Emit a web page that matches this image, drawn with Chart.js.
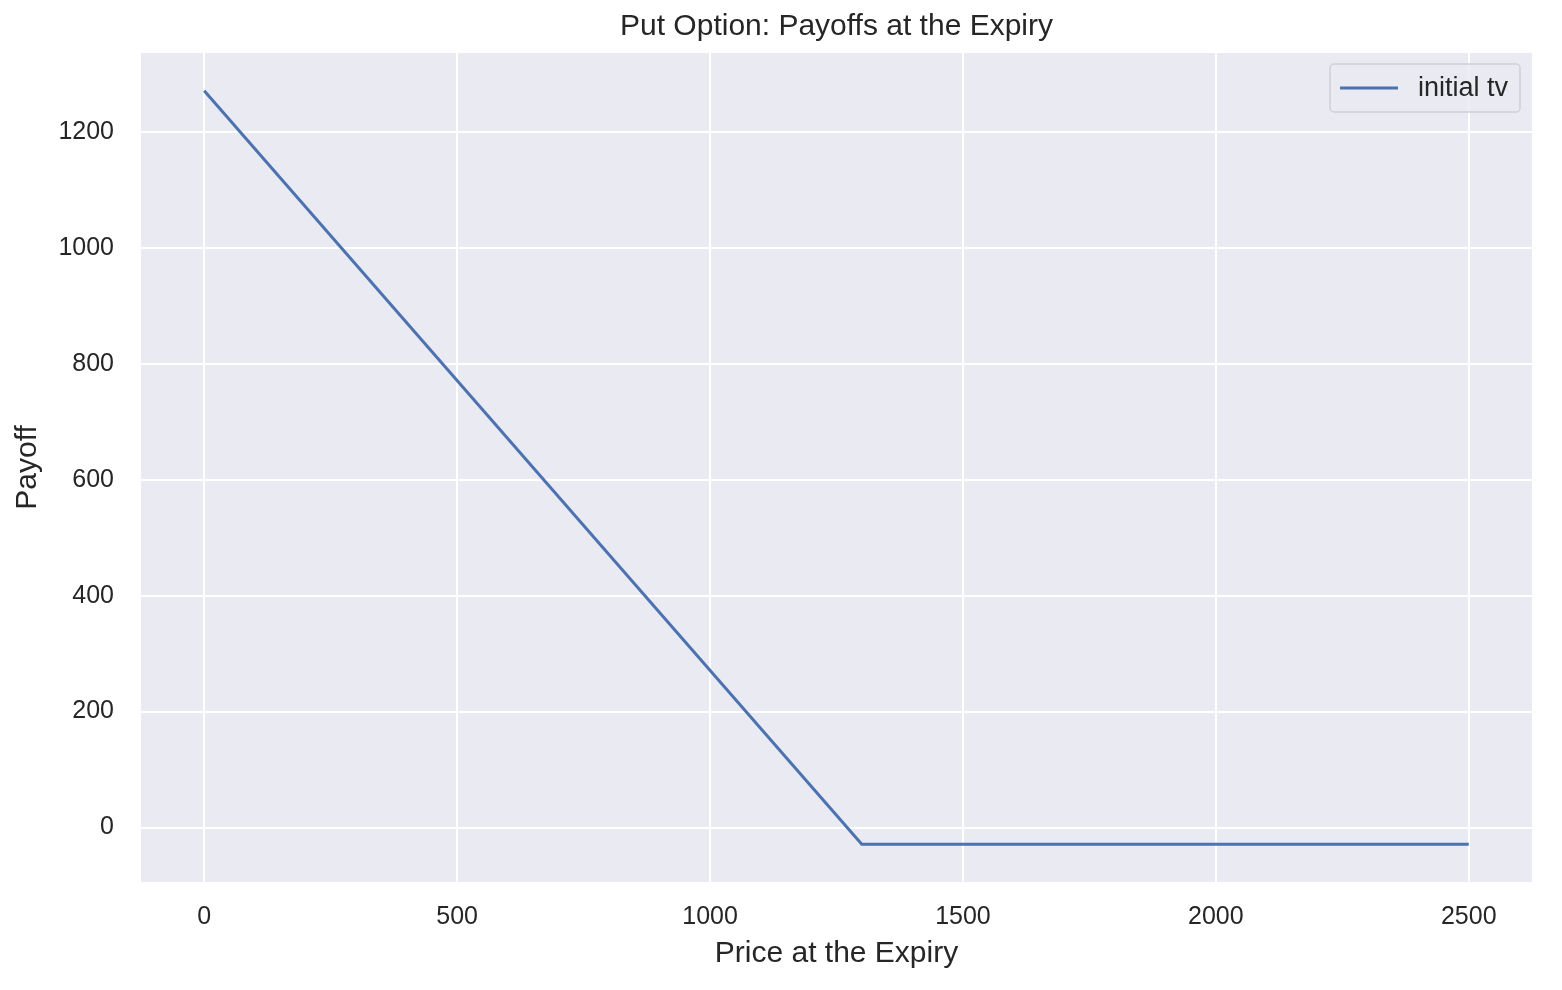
<!DOCTYPE html>
<html>
<head>
<meta charset="utf-8">
<script src="https://cdn.jsdelivr.net/npm/chart.js@4/dist/chart.umd.min.js"></script>
<style>
  html, body { margin: 0; padding: 0; background: #ffffff; }
  #wrap { width: 1562px; height: 990px; }
</style>
</head>
<body>
<div id="wrap"><canvas id="chart" width="1562" height="990"></canvas></div>
<script>
// Payoff of the put at expiry (strike ~1300, premium ~29)
const prices = [0, 1300, 2500];
const payoffs = [1271, -29, -29];
const xTicks = [0, 500, 1000, 1500, 2000, 2500];
const yTicks = [0, 200, 400, 600, 800, 1000, 1200];
const seriesName = 'initial tv';

const textColor = '#262626';
const fontFamily = '"Liberation Sans", Arial, sans-serif';

// grey plot background (seaborn darkgrid look)
const plotBg = {
  id: 'plotBg',
  beforeDraw(chart) {
    const { ctx, chartArea: a } = chart;
    ctx.save();
    ctx.fillStyle = '#eaeaf2';
    ctx.fillRect(a.left, a.top, a.right - a.left, a.bottom - a.top);
    ctx.restore();
  }
};

// legend box in the upper right corner
const cornerLegend = {
  id: 'cornerLegend',
  afterDatasetsDraw(chart) {
    const { ctx, chartArea: a } = chart;
    const w = 190, h = 48;
    const x = a.right - 12 - w, y = a.top + 11;
    ctx.save();
    ctx.fillStyle = 'rgba(234,234,242,0.8)';
    ctx.strokeStyle = '#d0d0d8';
    ctx.lineWidth = 1.5;
    ctx.beginPath();
    ctx.roundRect(x, y, w, h, 4);
    ctx.fill();
    ctx.stroke();
    ctx.strokeStyle = '#4c72b0';
    ctx.lineWidth = 3;
    ctx.beginPath();
    ctx.moveTo(x + 10, y + h / 2);
    ctx.lineTo(x + 68, y + h / 2);
    ctx.stroke();
    ctx.fillStyle = textColor;
    ctx.font = '27px ' + fontFamily;
    ctx.textBaseline = 'middle';
    ctx.fillText(seriesName, x + 88, y + h / 2 + 1);
    ctx.restore();
  }
};

new Chart(document.getElementById('chart'), {
  type: 'line',
  data: {
    datasets: [{
      label: seriesName,
      data: prices.map((p, i) => ({ x: p, y: payoffs[i] })),
      borderColor: '#4c72b0',
      borderWidth: 3,
      pointRadius: 0,
      tension: 0,
      fill: false
    }]
  },
  options: {
    responsive: false,
    animation: false,
    layout: { padding: { left: 0, right: 30, top: 0, bottom: 0 } },
    plugins: {
      legend: { display: false },
      tooltip: { enabled: false },
      title: {
        display: true,
        fullSize: false,
        text: 'Put Option: Payoffs at the Expiry',
        color: textColor,
        font: { family: fontFamily, size: 30, weight: 'normal' },
        padding: { top: 9, bottom: 8 }
      }
    },
    scales: {
      x: {
        type: 'linear',
        min: -125,
        max: 2625,
        afterBuildTicks: s => { s.ticks = xTicks.map(v => ({ value: v })); },
        afterFit: s => { s.height = 108; },
        grid: { color: '#ffffff', lineWidth: 2, drawTicks: false },
        border: { display: false },
        ticks: {
          color: textColor,
          padding: 20,
          font: { family: fontFamily, size: 25 },
          callback: v => String(v)
        },
        title: {
          display: true,
          text: 'Price at the Expiry',
          color: textColor,
          font: { family: fontFamily, size: 30 },
          padding: { top: 0, bottom: 18 }
        }
      },
      y: {
        min: -94,
        max: 1336,
        afterBuildTicks: s => { s.ticks = yTicks.map(v => ({ value: v })); },
        afterFit: s => { s.width = 141; },
        grid: { color: '#ffffff', lineWidth: 2, drawTicks: false },
        border: { display: false },
        ticks: {
          color: textColor,
          padding: 27,
          font: { family: fontFamily, size: 25 },
          callback: v => String(v)
        },
        title: {
          display: true,
          text: 'Payoff',
          color: textColor,
          font: { family: fontFamily, size: 30 },
          padding: { top: 10, bottom: 0 }
        }
      }
    }
  },
  plugins: [plotBg, cornerLegend]
});
</script>
</body>
</html>
